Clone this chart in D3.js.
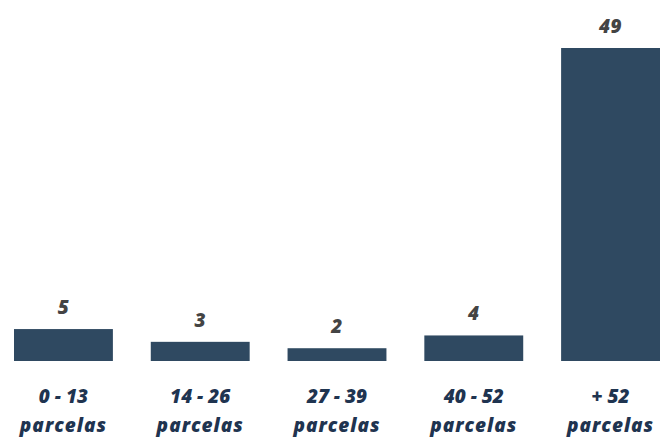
<!DOCTYPE html>
<html>
<head>
<meta charset="utf-8">
<script src="https://cdn.jsdelivr.net/npm/d3@7"></script>
<style>
  html, body { margin: 0; padding: 0; background: #ffffff; }
  svg { display: block; }
  text { font-family: "Open Sans", Lato, sans-serif; font-style: italic; font-weight: 800; }
</style>
</head>
<body>
<svg id="chart" width="667" height="437"></svg>
<script>
// Installment ranges and number of contracts in each
const categories = ["0 - 13", "14 - 26", "27 - 39", "40 - 52", "+ 52"];
const subLabels = ["parcelas", "parcelas", "parcelas", "parcelas", "parcelas"];
const values = [5, 3, 2, 4, 49];

const svg = d3.select("#chart");

const x = d3.scaleBand()
  .domain(categories)
  .range([14, 660])
  .paddingInner(0.277)
  .paddingOuter(0);

const baseline = 361;
const y = d3.scaleLinear()
  .domain([0, 49])
  .range([baseline, 48]);

const data = categories.map((c, i) => ({ cat: c, sub: subLabels[i], value: values[i] }));

// bars
svg.append("g")
  .selectAll("rect")
  .data(data)
  .join("rect")
  .attr("x", d => x(d.cat))
  .attr("y", d => y(d.value))
  .attr("width", x.bandwidth())
  .attr("height", d => baseline - y(d.value))
  .attr("fill", "#2f4961");

// value labels above bars
svg.append("g")
  .selectAll("text")
  .data(data)
  .join("text")
  .attr("x", d => x(d.cat) + x.bandwidth() / 2)
  .attr("y", d => y(d.value) - 15)
  .attr("text-anchor", "middle")
  .attr("fill", "#444444")
  .style("font-size", "19px")
  .style("letter-spacing", "0.5px")
  .text(d => d.value);

// category labels (two lines)
const cat = svg.append("g")
  .selectAll("text")
  .data(data)
  .join("text")
  .attr("text-anchor", "middle")
  .attr("fill", "#1f3450")
  .style("font-size", "19px");

cat.append("tspan")
  .attr("x", d => x(d.cat) + x.bandwidth() / 2)
  .attr("y", 403)
  .text(d => d.cat);

cat.append("tspan")
  .attr("x", d => x(d.cat) + x.bandwidth() / 2)
  .attr("y", 432)
  .style("letter-spacing", "1px")
  .text(d => d.sub);
</script>
</body>
</html>
